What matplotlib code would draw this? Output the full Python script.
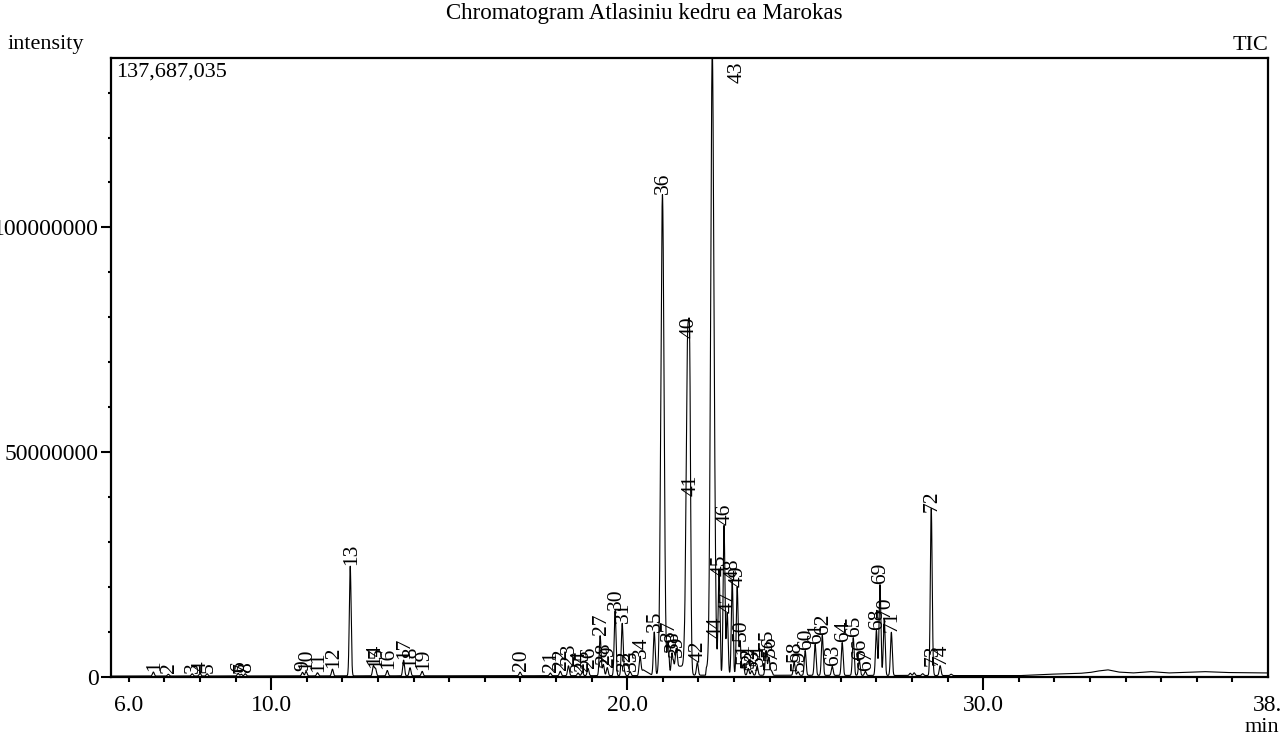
import numpy as np
import matplotlib
matplotlib.use('Agg')
import matplotlib.pyplot as plt
from matplotlib.ticker import MultipleLocator

plt.rcParams['font.family'] = ['Liberation Serif', 'DejaVu Serif']

# peak table: number, retention time (min), height (millions of counts)
peak_no = list(range(1, 75))
peak_rt = [6.69, 7.11, 7.78, 8.00, 8.20, 9.07, 9.16, 9.27, 10.88, 10.98,
           11.30, 11.72, 12.22, 12.87, 12.93, 13.26, 13.72, 13.90, 14.24, 16.99,
           17.84, 18.12, 18.35, 18.62, 18.74, 18.90, 19.24, 19.33, 19.44, 19.66,
           19.86, 19.92, 20.08, 20.36, 20.76, 20.99, 21.15, 21.26, 21.38, 21.70,
           21.76, 21.97, 22.39, 22.47, 22.58, 22.72, 22.81, 22.95, 23.09, 23.17,
           23.26, 23.40, 23.50, 23.65, 23.90, 23.98, 24.05, 24.69, 24.80, 25.00,
           25.28, 25.48, 25.76, 26.04, 26.35, 26.52, 26.69, 27.00, 27.10, 27.22,
           27.42, 28.54, 28.57, 28.79]
peak_h = [0.9, 0.4, 0.5, 0.6, 0.5, 0.6, 0.4, 0.5, 0.8, 1.0,
          0.7, 1.5, 24.4, 2.2, 1.6, 1.2, 3.5, 1.8, 1.0, 0.8,
          0.6, 1.0, 2.2, 0.6, 0.8, 1.6, 8.9, 2.5, 1.8, 14.4,
          11.6, 0.8, 0.9, 3.8, 9.6, 106.9, 7.5, 5.0, 4.0, 74.9,
          39.8, 2.8, 137.4, 8.2, 22.0, 33.3, 13.8, 21.1, 19.6, 7.6,
          2.5, 1.5, 1.0, 2.0, 5.5, 4.0, 1.0, 2.9, 0.8, 5.5,
          6.9, 8.9, 2.0, 7.3, 8.4, 3.3, 0.9, 10.0, 20.2, 12.7,
          9.6, 36.2, 2.0, 2.2]
# unlabeled small bumps
small_rt = [27.95, 28.06, 28.30, 29.10]
small_h = [0.5, 0.6, 0.4, 0.3]
# baseline / drift points (min, millions)
base_t = [5.5, 20.3, 20.45, 20.7, 21.28, 21.3, 21.6, 21.62, 22.2, 22.22, 22.62, 22.64,
          31.0, 31.8, 32.7, 33.0, 33.2, 33.5, 33.8, 34.2, 34.7, 35.2, 36.2, 36.5, 36.8, 38.0]
base_v = [0.2, 0.3, 1.6, 0.4, 0.4, 2.4, 2.4, 0.4, 0.4, 2.0, 2.0, 0.4,
          0.3, 0.6, 0.8, 1.0, 1.3, 1.6, 1.1, 0.9, 1.2, 0.9, 1.2, 1.1, 1.0, 0.9]

y_max = 137687035
x_min, x_max = 5.5, 38.0

t = np.arange(x_min, x_max, 0.002)
signal = np.interp(t, base_t, base_v)
for rt, h in zip(peak_rt + small_rt, peak_h + small_h):
    w = 0.045 if h > 60 else 0.025
    signal = signal + h * np.exp(-0.5 * ((t - rt) / w) ** 2)
signal = signal * 1e6

fig = plt.figure(figsize=(12.88, 7.40), dpi=100)
ax = fig.add_axes([111 / 1288, 1 - 677 / 740, 1157 / 1288, 619 / 740])
ax.plot(t, signal, color='black', lw=0.8)
ax.set_xlim(x_min, x_max)
ax.set_ylim(0, y_max)

# peak numbers, rotated like the instrument print-out
for n, rt, h in zip(peak_no, peak_rt, peak_h):
    if h * 1e6 > y_max * 0.9:
        ax.text(rt + 0.7, y_max * 0.995, str(n), rotation=90, ha='center', va='top', fontsize=15.5)
    else:
        ax.text(rt + 0.03, h * 1e6 + 0.5e6, str(n), rotation=90, ha='center', va='bottom', fontsize=15.5)

ax.set_xticks([6, 10, 20, 30, 38], labels=['6.0', '10.0', '20.0', '30.0', '38.'])
ax.xaxis.set_minor_locator(MultipleLocator(1))
ax.set_yticks([0, 50000000, 100000000], labels=['0', '50000000', '100000000'])
ax.yaxis.set_minor_locator(MultipleLocator(10000000))
ax.tick_params(axis='x', which='major', length=9, width=1.5, labelsize=17, pad=4)
ax.tick_params(axis='x', which='minor', length=3.5, width=1.5)
ax.tick_params(axis='y', which='major', length=7, width=1.5, labelsize=17, pad=2)
ax.tick_params(axis='y', which='minor', length=2.5, width=1.5)
xt = ax.xaxis.get_major_ticks()
xt[0].tick1line.set_markersize(3.5)
xt[-1].tick1line.set_markersize(0)
for s in ax.spines.values():
    s.set_linewidth(1.6)

ax.text(0.004, 0.992, '{:,}'.format(y_max), transform=ax.transAxes, ha='left', va='top', fontsize=16)
fig.text(0.5, 1 - 3 / 740, 'Chromatogram Atlasiniu kedru ea Marokas', ha='center', va='top', fontsize=16.5)
fig.text(8 / 1288, 1 - 45 / 740, 'intensity', ha='left', va='center', fontsize=16)
fig.text(1268 / 1288, 1 - 45 / 740, 'TIC', ha='right', va='center', fontsize=16)
fig.text(1262 / 1288, 1 - 727 / 740, 'min', ha='center', va='center', fontsize=16)

fig.savefig('out.png', dpi=100)
